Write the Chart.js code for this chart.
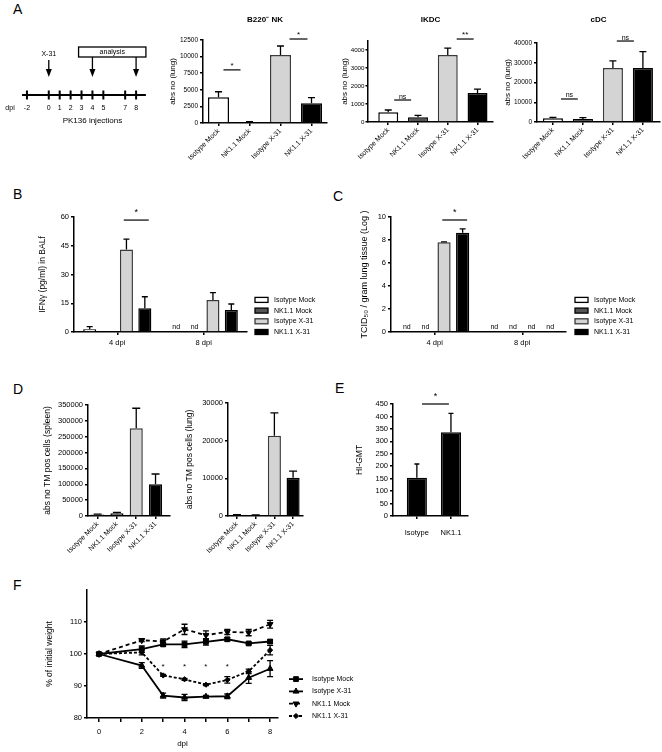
<!DOCTYPE html>
<html>
<head>
<meta charset="utf-8">
<script src="https://cdn.jsdelivr.net/npm/chart.js@4.4.1/dist/chart.umd.min.js"></script>
<style>
html,body{margin:0;padding:0;background:#fff;}
#root{position:relative;width:662px;height:752px;overflow:hidden;background:#fff;font-family:'Liberation Sans',Arial,Helvetica,sans-serif;}
#root canvas{position:absolute;}
.pl{position:absolute;font-size:14px;line-height:14px;color:#000;}
</style>
</head>
<body>
<div id="root">
<div class="pl" style="left:13px;top:2px">A</div>
<div class="pl" style="left:13px;top:187px">B</div>
<div class="pl" style="left:333px;top:189px">C</div>
<div class="pl" style="left:13px;top:382px">D</div>
<div class="pl" style="left:335px;top:381px">E</div>
<div class="pl" style="left:13px;top:578px">F</div>
</div>
<script>
const FONT = "'Liberation Sans', Arial, Helvetica, sans-serif";
Chart.defaults.font.family = FONT;
Chart.defaults.color = '#000';
Chart.defaults.animation = false;

// ================= DATA =================
const groups = ['Isotype Mock', 'NK1.1 Mock', 'Isotype X-31', 'NK1.1 X-31'];

// Panel A - timeline
const timelineDays = [-2, 0, 1, 2, 3, 4, 5, 7, 8];
const infectionDay = 0;
const analysisDays = [4, 8];

// Panel A - B220- NK
const nkMean = [3870, 150, 10250, 2960];
const nkSem = [840, 50, 1350, 850];
const nkTicks = [0, 2500, 5000, 7500, 10000, 12500];
// Panel A - IKDC
const ikdcMean = [540, 261, 3720, 1610];
const ikdcSem = [127, 111, 380, 220];
const ikdcTicks = [0, 500, 1000, 1500, 2000, 2500, 3000, 3500, 4000, 4500];
// Panel A - cDC
const cdcMean = [1870, 1520, 27340, 27300];
const cdcSem = [510, 660, 3560, 8300];
const cdcTicks = [0, 10000, 20000, 30000, 40000];

// Panel B - IFNy
const dpiLabels = ['4 dpi', '8 dpi'];
const ifnIsoMock = [1.4, null];
const ifnNkMock = [0.3, null];
const ifnIsoX31 = [43.1, 16.7];
const ifnNkX31 = [12.4, 11.5];
const ifnIsoMockSem = [1.4, 0];
const ifnNkMockSem = [0, 0];
const ifnIsoX31Sem = [5.4, 3.8];
const ifnNkX31Sem = [6.0, 3.1];
const ifnTicks = [0, 15, 30, 45, 60];

// Panel C - TCID50
const tcidIsoMock = [null, null];
const tcidNkMock = [null, null];
const tcidIsoX31 = [7.8, null];
const tcidNkX31 = [8.63, null];
const tcidIsoMockSem = [0, 0];
const tcidNkMockSem = [0, 0];
const tcidIsoX31Sem = [0.04, 0];
const tcidNkX31Sem = [0.33, 0];
const tcidTicks = [0, 2, 4, 6, 8, 10];

// Panel D - TM pos cells
const spleenMean = [5000, 8500, 276600, 100000];
const spleenSem = [1000, 3200, 63100, 32500];
const spleenTicks = [0, 50000, 100000, 150000, 200000, 250000, 300000, 350000];
const lungTmMean = [250, 200, 21300, 10170];
const lungTmSem = [100, 80, 6100, 1770];
const lungTmTicks = [0, 10000, 20000, 30000];

// Panel E - HI-GMT
const hiGroups = ['Isotype', 'NK1.1'];
const hiMean = [154, 336];
const hiSem = [55, 76];
const hiTicks = [0, 50, 100, 150, 200, 250, 300, 350, 400, 450];

// Panel F - weight
const weightDays = [0, 2, 3, 4, 5, 6, 7, 8];
const wIsoMock = [100, 101.5, 103.0, 103.0, 103.8, 104.6, 103.3, 103.9];
const wIsoX31 = [100, 96.4, 87.0, 86.4, 86.7, 86.8, 92.6, 95.4];
const wNkMock = [100, 104.3, 103.9, 107.7, 105.9, 106.9, 106.7, 109.3];
const wNkX31 = [100, 100.5, 93.3, 92.1, 90.4, 91.9, 94.6, 101.2];
const wIsoMockSem = [0, 1.0, 0.5, 1.0, 1.0, 0.5, 0.4, 0.5];
const wIsoX31Sem = [0, 0.9, 0.8, 1.0, 0.4, 0.7, 1.8, 2.5];
const wNkMockSem = [0, 0.4, 0.8, 1.6, 1.3, 0.8, 1.0, 1.2];
const wNkX31Sem = [0, 0.8, 0.3, 0.3, 0.3, 1.0, 0.7, 1.5];
const weightTicks = [80, 90, 100, 110];
const dayTicks = [0, 1, 2, 3, 4, 5, 6, 7, 8];
const starDays = [3, 4, 5, 6];
const starLevel = 96.0;

// significance brackets: from/to in category units, y in data units
const nkSig = [{from: 0.16, to: 0.71, y: 8000, text: '*'}, {from: 2.29, to: 2.87, y: 12650, text: '*'}];
const ikdcSig = [{from: 0.2, to: 0.77, y: 1222, text: 'ns'}, {from: 2.3, to: 2.87, y: 4610, text: '**'}];
const cdcSig = [{from: 0.27, to: 0.83, y: 11650, text: 'ns'}, {from: 2.13, to: 2.7, y: 41000, text: 'ns'}];
const ifnSig = [{from: 0.075, to: 0.364, y: 58.4, text: '*'}];
const tcidSig = [{from: 0.086, to: 0.37, y: 9.74, text: '*'}];
const hiSig = [{from: 0.15, to: 0.94, y: 450, text: '*'}];

// ================= STYLE =================
const fills = ['#ffffff', '#555555', '#d4d4d4', '#000000'];
const borders = ['#000000', '#000000', '#3a3a3a', '#000000'];
const AX = {display: true, color: '#000', width: 1.5};
function gridT(len) {
  return {display: true, drawOnChartArea: false, drawTicks: true, tickLength: len || 3, color: '#000', lineWidth: 1.5, offset: false};
}
const root = document.getElementById('root');
function canvasFor(plot, m) {
  const c = document.createElement('canvas');
  const w = Math.round(plot.r - plot.l + m.l + m.r);
  const h = Math.round(plot.b - plot.t + m.t + m.b);
  c.width = w; c.height = h;
  c.style.width = w + 'px'; c.style.height = h + 'px';
  c.style.left = (plot.l - m.l) + 'px';
  c.style.top = (plot.t - m.t) + 'px';
  root.appendChild(c);
  return c;
}
function baseOpts(m) {
  return {
    responsive: false, animation: false, devicePixelRatio: 1,
    layout: {padding: {left: 0, top: m.t, right: m.r, bottom: 0}},
    plugins: {legend: {display: false}, tooltip: {enabled: false}, title: {display: false}}
  };
}
function yAxis(m, ticks, o) {
  o = o || {};
  return {
    type: 'linear', min: ticks[0], max: o.max !== undefined ? o.max : ticks[ticks.length - 1],
    afterFit: s => { s.width = m.l; },
    afterBuildTicks: s => { s.ticks = ticks.map(v => ({value: v})); },
    border: AX, grid: gridT(o.tl || 3),
    ticks: {font: {size: o.fs || 7}, color: '#000', padding: o.pad !== undefined ? o.pad : 2, callback: v => String(v)}
  };
}
function xCatLin(m, labels, xmin, xmax, o) {
  o = o || {};
  const rot = o.rot !== undefined ? o.rot : 45;
  return {
    type: 'linear', min: xmin, max: xmax, offset: false,
    afterFit: s => { s.height = m.b; },
    afterBuildTicks: s => { s.ticks = labels.map((_, i) => ({value: i})); },
    border: AX, grid: gridT(3),
    ticks: {font: {size: o.fs || 7}, color: '#000', padding: o.pad !== undefined ? o.pad : 1, autoSkip: false,
      minRotation: rot, maxRotation: rot, callback: v => (labels[v] !== undefined ? labels[v] : '')}
  };
}

// ================= PLUGINS =================
const errPlugin = {
  id: 'errbars',
  afterDatasetsDraw(chart) {
    const ctx = chart.ctx, ys = chart.scales.y;
    chart.data.datasets.forEach((ds, di) => {
      if (!ds.errors) return;
      const meta = chart.getDatasetMeta(di);
      meta.data.forEach((el, i) => {
        const v = ds.values[i], e = ds.errors[i];
        if (v === null || v === undefined || !e) return;
        const x = el.x;
        const yTop = ys.getPixelForValue(v + e);
        const yBot = ds.errBoth ? ys.getPixelForValue(v - e) : ys.getPixelForValue(v);
        const c = ds.capHalf || 3.5;
        ctx.save();
        ctx.strokeStyle = '#000'; ctx.lineWidth = 1.3; ctx.setLineDash([]);
        ctx.beginPath();
        ctx.moveTo(x, yBot); ctx.lineTo(x, yTop);
        ctx.moveTo(x - c, yTop); ctx.lineTo(x + c, yTop);
        if (ds.errBoth) { ctx.moveTo(x - c, yBot); ctx.lineTo(x + c, yBot); }
        ctx.stroke();
        ctx.restore();
      });
    });
  }
};
function sigPlugin(list, o) {
  o = o || {};
  return {
    id: 'sig',
    afterDraw(chart) {
      const ctx = chart.ctx, x = chart.scales.x, y = chart.scales.y;
      ctx.save();
      ctx.strokeStyle = '#000'; ctx.fillStyle = '#000'; ctx.lineWidth = 1.2;
      list.forEach(s => {
        const x1 = x.getPixelForValue(s.from), x2 = x.getPixelForValue(s.to), yy = y.getPixelForValue(s.y);
        ctx.beginPath(); ctx.moveTo(x1, yy); ctx.lineTo(x2, yy); ctx.stroke();
        const isNs = s.text === 'ns';
        ctx.font = (isNs ? (o.nsSize || 7) : (o.starSize || 8)) + 'px ' + FONT;
        ctx.textAlign = 'center'; ctx.textBaseline = 'alphabetic';
        ctx.fillText(s.text, (x1 + x2) / 2, yy - (isNs ? 1.5 : (o.starGap || 2)));
      });
      ctx.restore();
    }
  };
}
function titlePlugin(text, dy, size) {
  return {
    id: 'ptitle',
    afterDraw(chart) {
      const ctx = chart.ctx, ca = chart.chartArea;
      ctx.save();
      ctx.font = 'bold ' + (size || 8) + 'px ' + FONT;
      ctx.fillStyle = '#000'; ctx.textAlign = 'center'; ctx.textBaseline = 'middle';
      ctx.fillText(text, (ca.left + ca.right) / 2, ca.top - dy);
      ctx.restore();
    }
  };
}
function yTitlePlugin(text, size, xpos) {
  return {
    id: 'ytitle',
    afterDraw(chart) {
      const ctx = chart.ctx, ca = chart.chartArea;
      ctx.save();
      ctx.translate(xpos === undefined ? 6 : xpos, (ca.top + ca.bottom) / 2);
      ctx.rotate(-Math.PI / 2);
      ctx.font = (size || 8) + 'px ' + FONT;
      ctx.fillStyle = '#000'; ctx.textAlign = 'center'; ctx.textBaseline = 'middle';
      ctx.fillText(text, 0, 0);
      ctx.restore();
    }
  };
}
const ndPlugin = {
  id: 'nd',
  afterDatasetsDraw(chart) {
    const ctx = chart.ctx, y = chart.scales.y;
    ctx.save();
    ctx.font = '7px ' + FONT; ctx.fillStyle = '#000'; ctx.textAlign = 'center'; ctx.textBaseline = 'alphabetic';
    chart.data.datasets.forEach((ds, di) => {
      const meta = chart.getDatasetMeta(di);
      ds.data.forEach((v, i) => {
        if (v === null) ctx.fillText('nd', meta.data[i].x, y.getPixelForValue(0) - 3);
      });
    });
    ctx.restore();
  }
};
function boxLegend(dx) {
  return {
    id: 'blegend',
    afterDraw(chart) {
      const ctx = chart.ctx, ca = chart.chartArea;
      const n = chart.data.datasets.length;
      ctx.save();
      ctx.font = '7px ' + FONT; ctx.textBaseline = 'middle'; ctx.textAlign = 'left';
      chart.data.datasets.forEach((ds, k) => {
        const yc = ca.bottom - (n - 1 - k) * 10.7;
        const x0 = ca.right + dx;
        ctx.fillStyle = ds.backgroundColor; ctx.fillRect(x0, yc - 2.5, 13, 5);
        ctx.strokeStyle = ds.borderColor; ctx.lineWidth = 1.3; ctx.strokeRect(x0, yc - 2.5, 13, 5);
        ctx.fillStyle = '#000'; ctx.fillText(ds.label, x0 + 19, yc);
      });
      ctx.restore();
    }
  };
}

// ================= BUILDERS =================
function singleBar(plot, m, o) {
  const c = canvasFor(plot, m);
  const opts = baseOpts(m);
  opts.scales = {x: xCatLin(m, o.labels, o.xmin, o.xmax, o.xo), y: yAxis(m, o.ticks, o.yo)};
  const plugins = [errPlugin, sigPlugin(o.sig || [], o.so), yTitlePlugin(o.ytitle, o.ytfs || 8, o.ytx)];
  if (o.title) plugins.push(titlePlugin(o.title, o.titleDy));
  return new Chart(c, {
    type: 'bar',
    data: {datasets: [{
      data: o.values.map((v, i) => ({x: i, y: v})),
      backgroundColor: o.fills, borderColor: o.borders, borderWidth: 1.5,
      barPercentage: o.barPct, categoryPercentage: 1,
      errors: o.sem, values: o.values, capHalf: o.cap || 3.5
    }]},
    options: opts,
    plugins: plugins
  });
}
function groupedBar(plot, m, o) {
  const c = canvasFor(plot, m);
  const opts = baseOpts(m);
  opts.scales = {
    x: {type: 'category', offset: true, afterFit: s => { s.height = m.b; }, border: AX, grid: gridT(3),
        ticks: {font: {size: 7.5}, color: '#000', padding: 3, maxRotation: 0, minRotation: 0, autoSkip: false}},
    y: yAxis(m, o.ticks, {fs: 7.5})
  };
  return new Chart(c, {
    type: 'bar',
    data: {
      labels: dpiLabels,
      datasets: o.series.map((s, k) => ({
        label: groups[k], data: s, backgroundColor: fills[k], borderColor: borders[k], borderWidth: 1.5,
        barPercentage: 0.71, categoryPercentage: 0.85, errors: o.sems[k], values: s, capHalf: 3
      }))
    },
    options: opts,
    plugins: [errPlugin, ndPlugin, sigPlugin(o.sig, {starSize: 9, starGap: 5}), boxLegend(o.legDx), yTitlePlugin(o.ytitle, o.ytfs || 8)]
  });
}

// ================= PANEL A: timeline =================
(function () {
  const c = document.createElement('canvas');
  c.width = 160; c.height = 100;
  c.style.width = '160px'; c.style.height = '100px';
  c.style.left = '0px'; c.style.top = '35px';
  root.appendChild(c);
  const timelinePlugin = {
    id: 'timeline',
    afterDraw(chart) {
      const ctx = chart.ctx, xs = chart.scales.x, ys = chart.scales.y;
      const X = v => xs.getPixelForValue(v), Y = v => ys.getPixelForValue(v);
      function arrow(px, y0, y1) {
        ctx.lineWidth = 1.3;
        ctx.beginPath(); ctx.moveTo(px, y0); ctx.lineTo(px, y1 - 6); ctx.stroke();
        ctx.beginPath(); ctx.moveTo(px - 3, y1 - 8); ctx.lineTo(px + 3, y1 - 8); ctx.lineTo(px, y1); ctx.closePath(); ctx.fill();
      }
      ctx.save();
      ctx.strokeStyle = '#000'; ctx.fillStyle = '#000';
      ctx.lineWidth = 2;
      ctx.beginPath(); ctx.moveTo(X(-2.45), Y(0)); ctx.lineTo(X(8.9), Y(0)); ctx.stroke();
      ctx.font = '7px ' + FONT; ctx.textAlign = 'center'; ctx.textBaseline = 'middle';
      timelineDays.forEach(d => ctx.fillText(String(d), X(d), Y(-1.3)));
      ctx.fillText('dpi', X(-3.55), Y(-1.3));
      ctx.font = '8px ' + FONT;
      ctx.fillText('PK136 injections', X(4), Y(-2.6));
      ctx.font = '7px ' + FONT;
      ctx.fillText('X-31', X(infectionDay), Y(4.1));
      arrow(X(infectionDay), Y(3.5), Y(1.8));
      ctx.lineWidth = 1.3;
      ctx.strokeRect(X(2.73), Y(4.8), X(8.9) - X(2.73), Y(3.8) - Y(4.8));
      ctx.fillText('analysis', (X(2.73) + X(8.9)) / 2, Y(4.3));
      analysisDays.forEach(d => arrow(X(d), Y(3.8), Y(1.8)));
      ctx.restore();
    }
  };
  new Chart(c, {
    type: 'scatter',
    data: {datasets: [{data: timelineDays.map(d => ({x: d, y: 0})), pointStyle: 'line', pointRotation: 90,
      pointRadius: 4.5, borderColor: '#000', backgroundColor: '#000', borderWidth: 2, showLine: false}]},
    options: {
      responsive: false, animation: false, devicePixelRatio: 1,
      layout: {padding: {left: 21.5, right: 13, top: 10, bottom: 10}},
      plugins: {legend: {display: false}, tooltip: {enabled: false}},
      scales: {x: {type: 'linear', display: false, min: -2.5, max: 9}, y: {type: 'linear', display: false, min: -3, max: 5}}
    },
    plugins: [timelinePlugin]
  });
})();

// ================= PANEL A: bar charts =================
singleBar({l: 203, r: 327, t: 40, b: 123}, {l: 36, r: 3, t: 32, b: 42}, {
  labels: groups, values: nkMean, sem: nkSem, fills: fills, borders: borders,
  xmin: -0.5, xmax: 3.5, barPct: 0.68, ticks: nkTicks, yo: {fs: 6.5},
  ytitle: 'abs no (lung)', title: 'B220\u207B NK', titleDy: 20, sig: nkSig
});
singleBar({l: 368, r: 493, t: 41, b: 122}, {l: 28, r: 3, t: 33, b: 42}, {
  labels: groups, values: ikdcMean, sem: ikdcSem, fills: fills, borders: borders,
  xmin: -0.68, xmax: 3.52, barPct: 0.67, ticks: ikdcTicks, yo: {fs: 6.2, pad: 1, tl: 2.5},
  ytitle: 'abs no (lung)', ytx: 5, title: 'IKDC', titleDy: 21, sig: ikdcSig
});
singleBar({l: 537, r: 660, t: 43, b: 122}, {l: 35, r: 2, t: 35, b: 42}, {
  labels: groups, values: cdcMean, sem: cdcSem, fills: fills, borders: borders,
  xmin: -0.53, xmax: 3.57, barPct: 0.67, ticks: cdcTicks, yo: {fs: 6.5},
  ytitle: 'abs no (lung)', title: 'cDC', titleDy: 23, sig: cdcSig
});

// ================= PANEL B & C =================
groupedBar({l: 74, r: 247, t: 217, b: 332}, {l: 37, r: 90, t: 22, b: 16}, {
  series: [ifnIsoMock, ifnNkMock, ifnIsoX31, ifnNkX31],
  sems: [ifnIsoMockSem, ifnNkMockSem, ifnIsoX31Sem, ifnNkX31Sem],
  ticks: ifnTicks, ytitle: 'IFN\u03B3 (pg/ml) in BALf', sig: ifnSig, legDx: 8, ytfs: 8.5
});
groupedBar({l: 391, r: 566, t: 217, b: 332}, {l: 32, r: 96, t: 22, b: 16}, {
  series: [tcidIsoMock, tcidNkMock, tcidIsoX31, tcidNkX31],
  sems: [tcidIsoMockSem, tcidNkMockSem, tcidIsoX31Sem, tcidNkX31Sem],
  ticks: tcidTicks, ytitle: 'TCID\u2085\u2080 / gram lung tissue (Log )', sig: tcidSig, legDx: 9, ytfs: 9
});

// ================= PANEL D =================
singleBar({l: 88, r: 170, t: 405, b: 516}, {l: 46, r: 4, t: 8, b: 48}, {
  labels: groups, values: spleenMean, sem: spleenSem, fills: fills, borders: borders,
  xmin: -0.5, xmax: 3.75, barPct: 0.68, ticks: spleenTicks, yo: {fs: 7.5}, cap: 4,
  ytitle: 'abs no TM pos cells (spleen)', ytfs: 8.5
});
singleBar({l: 228, r: 303, t: 403, b: 516}, {l: 44, r: 4, t: 8, b: 48}, {
  labels: groups, values: lungTmMean, sem: lungTmSem, fills: fills, borders: borders,
  xmin: -0.48, xmax: 3.53, barPct: 0.7, ticks: lungTmTicks, yo: {fs: 7.5}, cap: 4,
  ytitle: 'abs no TM pos cells (lung)', ytfs: 8.5
});

// ================= PANEL E =================
singleBar({l: 393, r: 468, t: 404, b: 516}, {l: 39, r: 4, t: 16, b: 26}, {
  labels: hiGroups, values: hiMean, sem: hiSem, fills: ['#000', '#000'], borders: ['#000', '#000'],
  xmin: -0.7, xmax: 1.5, barPct: 0.59, ticks: hiTicks, yo: {fs: 7.5}, cap: 2.5,
  xo: {rot: 0, fs: 7.5, pad: 9},
  ytitle: 'HI-GMT', ytfs: 8.5, sig: hiSig, so: {starSize: 9, starGap: 5}
});

// ================= PANEL F =================
(function () {
  const plot = {l: 87, r: 278, t: 590, b: 718}, m = {l: 43, r: 100, t: 8, b: 33};
  const c = canvasFor(plot, m);
  const opts = baseOpts(m);
  opts.scales = {
    x: {type: 'linear', min: -0.56, max: 8.37, offset: false,
        afterFit: s => { s.height = m.b; },
        afterBuildTicks: s => { s.ticks = dayTicks.map(v => ({value: v})); },
        border: AX, grid: gridT(4),
        ticks: {font: {size: 7.5}, color: '#000', padding: 5, maxRotation: 0, autoSkip: false,
                callback: v => (v % 2 === 0 ? String(v) : '')},
        title: {display: true, text: 'dpi', color: '#000', font: {size: 8}, padding: {top: 0, bottom: 2}}},
    y: yAxis(m, weightTicks, {max: 120, fs: 7.5})
  };
  const mk = (label, vals, sem, style, extra) => Object.assign({
    label: label, data: weightDays.map((d, i) => ({x: d, y: vals[i]})), values: vals, errors: sem, errBoth: true, capHalf: 3,
    borderColor: '#000', backgroundColor: '#000', borderWidth: 1.8, pointStyle: style, pointRadius: 3.2,
    pointBorderWidth: 1, tension: 0, fill: false
  }, extra || {});
  const fExtra = {
    id: 'fextra',
    afterDraw(chart) {
      const ctx = chart.ctx, ca = chart.chartArea, x = chart.scales.x, y = chart.scales.y;
      ctx.save();
      ctx.fillStyle = '#000'; ctx.strokeStyle = '#000';
      ctx.font = '8px ' + FONT; ctx.textAlign = 'center'; ctx.textBaseline = 'middle';
      starDays.forEach(d => ctx.fillText('*', x.getPixelForValue(d), y.getPixelForValue(starLevel)));
      ctx.font = '7px ' + FONT; ctx.textAlign = 'left';
      const n = chart.data.datasets.length;
      chart.data.datasets.forEach((ds, k) => {
        const yc = ca.bottom - 2 - (n - 1 - k) * 12.3;
        const x0 = ca.right + 11;
        ctx.lineWidth = 1.8; ctx.setLineDash(ds.borderDash || []);
        ctx.beginPath(); ctx.moveTo(x0, yc); ctx.lineTo(x0 + 14, yc); ctx.stroke();
        ctx.setLineDash([]);
        if (Chart.helpers && Chart.helpers.drawPoint) {
          ctx.lineWidth = 1;
          Chart.helpers.drawPoint(ctx, {pointStyle: ds.pointStyle, rotation: ds.pointRotation || 0, radius: ds.pointRadius, borderWidth: 1}, x0 + 7, yc);
        }
        ctx.fillStyle = '#000';
        ctx.fillText(ds.label, x0 + 23, yc);
      });
      ctx.restore();
    }
  };
  new Chart(c, {
    type: 'line',
    data: {datasets: [
      mk('Isotype Mock', wIsoMock, wIsoMockSem, 'rect', {pointRadius: 3.4}),
      mk('Isotype X-31', wIsoX31, wIsoX31Sem, 'triangle', {pointRadius: 3.4}),
      mk('NK1.1 Mock', wNkMock, wNkMockSem, 'triangle', {pointRotation: 180, pointRadius: 3.4, borderDash: [4, 3]}),
      mk('NK1.1 X-31', wNkX31, wNkX31Sem, 'rectRot', {pointRadius: 2.6, borderDash: [3, 2]})
    ]},
    options: opts,
    plugins: [errPlugin, fExtra, yTitlePlugin('% of initial weight', 8.5)]
  });
})();
</script>
</body>
</html>
